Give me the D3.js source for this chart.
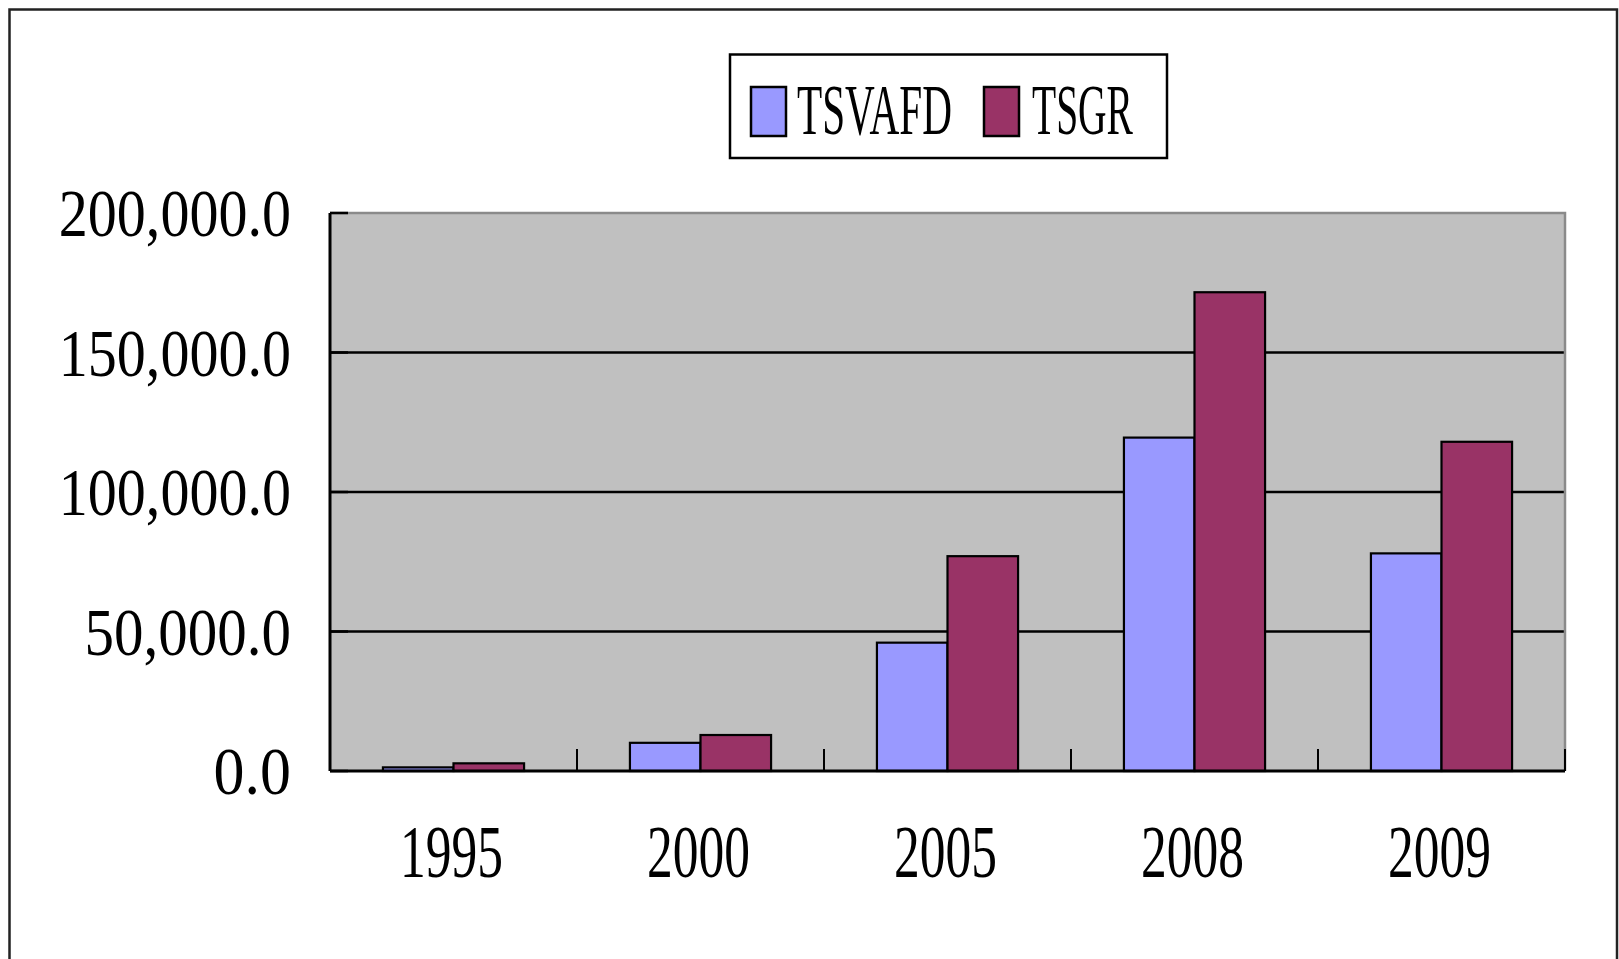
<!DOCTYPE html>
<html>
<head>
<meta charset="utf-8">
<script src="https://cdn.jsdelivr.net/npm/d3@7"></script>
<style>
  html, body { margin: 0; padding: 0; background: #ffffff; }
  svg { display: block; }
  text { font-family: "Liberation Serif", "DejaVu Serif", serif; fill: #000; }
</style>
</head>
<body>
<svg id="chart" width="1619" height="959"></svg>
<script>
// ---- data ----
const categories = ["1995", "2000", "2005", "2008", "2009"];
const seriesNames = ["TSVAFD", "TSGR"];
const tsvafd = [1300, 10100, 46000, 119500, 78000];
const tsgr = [2750, 12900, 77000, 171600, 118000];
const yTicks = [0, 50000, 100000, 150000, 200000];
const seriesColors = ["#9999FF", "#993366"];

const seriesValues = [tsvafd, tsgr];

// ---- layout ----
const plot = { left: 330, right: 1565, top: 213, bottom: 771 };

const svg = d3.select("#chart");

// squeeze a text horizontally to a target width with a transform
function fit(sel, left, baseline, targetW) {
  sel.each(function(d) {
    const t = d3.select(this).attr("x", 0).attr("y", 0);
    const w = this.getComputedTextLength();
    const tw = typeof targetW === "function" ? targetW(d) : targetW;
    const lx = typeof left === "function" ? left(d, tw) : left;
    const by = typeof baseline === "function" ? baseline(d) : baseline;
    t.attr("transform", `translate(${lx},${by}) scale(${tw / w},1)`);
  });
}

// outer frame
svg.append("rect")
  .attr("x", 9.5).attr("y", 9.5)
  .attr("width", 1617 - 9.5).attr("height", 1100)
  .attr("fill", "#ffffff")
  .attr("stroke", "#222").attr("stroke-width", 2.5);

const x = d3.scaleBand().domain(categories).range([plot.left, plot.right]).padding(0);
const barW = x.bandwidth() / 3.5;
const xInner = d3.scaleBand().domain(seriesNames).range([0, barW * 2]).padding(0);
const groupOffset = (x.bandwidth() - barW * 2) / 2;
const y = d3.scaleLinear().domain([0, 200000]).range([plot.bottom, plot.top]);
const fmt = d3.format(",.1f");

// plot background
svg.append("rect")
  .attr("x", plot.left).attr("y", plot.top)
  .attr("width", plot.right - plot.left).attr("height", plot.bottom - plot.top)
  .attr("fill", "#C0C0C0");

// gridlines
svg.append("g").selectAll("line")
  .data(yTicks.filter(t => t > 0 && t < 200000))
  .join("line")
  .attr("x1", plot.left).attr("x2", plot.right)
  .attr("y1", d => y(d)).attr("y2", d => y(d))
  .attr("stroke", "#000").attr("stroke-width", 2.5);

// top & right plot border (grey)
svg.append("path")
  .attr("d", `M${plot.left},${plot.top}H${plot.right}V${plot.bottom}`)
  .attr("fill", "none").attr("stroke", "#8a8a8a").attr("stroke-width", 2.5);

// bars
const rows = categories.map((c, i) => ({ cat: c, vals: seriesNames.map((s, j) => ({ s, v: seriesValues[j][i], j })) }));
const groups = svg.append("g").selectAll("g")
  .data(rows).join("g")
  .attr("transform", d => `translate(${x(d.cat) + groupOffset},0)`);
groups.selectAll("rect")
  .data(d => d.vals).join("rect")
  .attr("x", d => xInner(d.s))
  .attr("y", d => y(d.v))
  .attr("width", xInner.bandwidth())
  .attr("height", d => y(0) - y(d.v))
  .attr("fill", d => seriesColors[d.j])
  .attr("stroke", "#000").attr("stroke-width", 2.2);

// x tick marks (inside, at category boundaries)
const boundaries = categories.map(c => x(c)).concat([x(categories[categories.length - 1]) + x.bandwidth()]);
svg.append("g").selectAll("line")
  .data(boundaries).join("line")
  .attr("x1", d => d).attr("x2", d => d)
  .attr("y1", y(0)).attr("y2", y(0) - 22)
  .attr("stroke", "#000").attr("stroke-width", 2);

// y tick marks (inside)
svg.append("g").selectAll("line")
  .data(yTicks).join("line")
  .attr("x1", plot.left).attr("x2", plot.left + 18)
  .attr("y1", d => y(d)).attr("y2", d => y(d))
  .attr("stroke", "#000").attr("stroke-width", 2.5);

// axes lines
svg.append("line")
  .attr("x1", plot.left).attr("x2", plot.right)
  .attr("y1", plot.bottom).attr("y2", plot.bottom)
  .attr("stroke", "#000").attr("stroke-width", 3);
svg.append("line")
  .attr("x1", plot.left).attr("x2", plot.left)
  .attr("y1", plot.top).attr("y2", plot.bottom)
  .attr("stroke", "#000").attr("stroke-width", 3);

// y labels
const charW = 25.8;
svg.append("g").selectAll("text")
  .data(yTicks).join("text")
  .attr("font-size", 68)
  .text(d => fmt(d))
  .call(fit, (d, tw) => 291 - tw, d => y(d) + 23, d => fmt(d).length * charW);

// x labels
svg.append("g").selectAll("text")
  .data(categories).join("text")
  .attr("font-size", 74)
  .text(d => d)
  .call(fit, (d, tw) => x(d) + x.bandwidth() / 2 - 2 - tw / 2, 877, 103);

// legend
const legend = svg.append("g");
legend.append("rect")
  .attr("x", 730).attr("y", 54.5)
  .attr("width", 437).attr("height", 103.5)
  .attr("fill", "#fff").attr("stroke", "#000").attr("stroke-width", 2.5);
const legendItems = [
  { name: seriesNames[0], color: seriesColors[0], sx: 751, tx: 797, tw: 155 },
  { name: seriesNames[1], color: seriesColors[1], sx: 984, tx: 1032, tw: 101 }
];
legend.selectAll("rect.sw")
  .data(legendItems).join("rect")
  .attr("class", "sw")
  .attr("x", d => d.sx).attr("y", 87)
  .attr("width", 35).attr("height", 49)
  .attr("fill", d => d.color).attr("stroke", "#000").attr("stroke-width", 2.5);
legend.selectAll("text")
  .data(legendItems).join("text")
  .attr("font-size", 71)
  .text(d => d.name)
  .call(fit, d => d.tx, 134, d => d.tw);
</script>
</body>
</html>
